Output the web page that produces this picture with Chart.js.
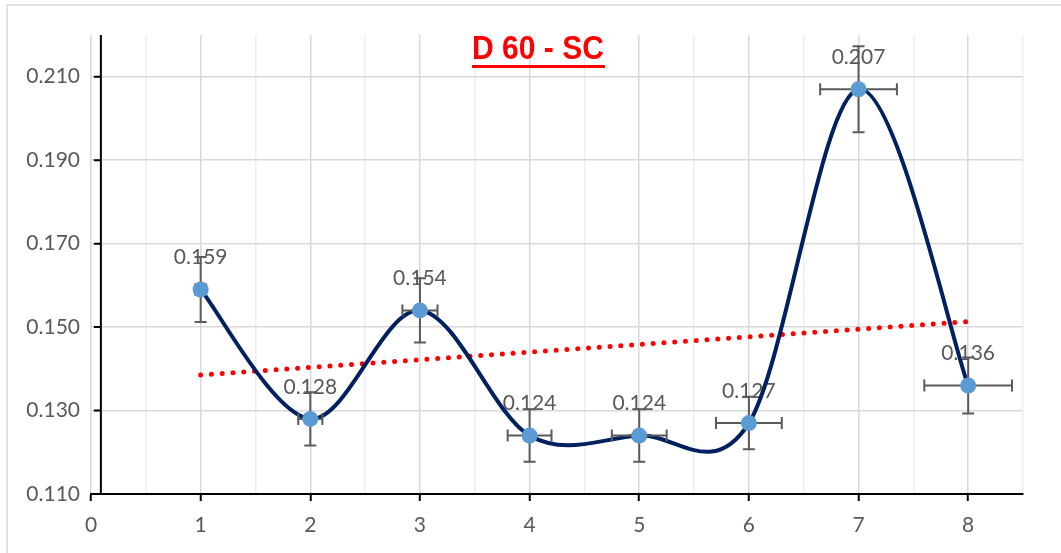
<!DOCTYPE html>
<html>
<head>
<meta charset="utf-8">
<script src="https://cdn.jsdelivr.net/npm/chart.js@4.4.1/dist/chart.umd.min.js"></script>
<style>
  html, body { margin: 0; padding: 0; background: #fff; }
  #wrap { width: 1061px; height: 553px; }
</style>
</head>
<body>
<div id="wrap"><canvas id="chart" width="1061" height="553"></canvas></div>
<script>
const chartTitle = 'D 60 - SC';

// measured points
const xValues = [1, 2, 3, 4, 5, 6, 7, 8];
const yValues = [0.159, 0.128, 0.154, 0.124, 0.124, 0.127, 0.207, 0.136];
const yErrors = [0.0078, 0.0064, 0.0077, 0.0063, 0.0063, 0.0063, 0.0103, 0.0067];
const xErrors = [0.05, 0.11, 0.16, 0.2, 0.25, 0.3, 0.35, 0.4];

// linear trend line end points
const trendX = [1, 8];
const trendY = [0.1385, 0.1513];

// axes
const xTicks = [0, 0.5, 1, 1.5, 2, 2.5, 3, 3.5, 4, 4.5, 5, 5.5, 6, 6.5, 7, 7.5, 8, 8.5];
const yTicks = [0.110, 0.130, 0.150, 0.170, 0.190, 0.210];
const yMin = 0.110, yMax = 0.220;
const yAxisCrossesAt = 0.09;

const points = xValues.map((x, i) => ({ x, y: yValues[i] }));
const trendPoints = trendX.map((x, i) => ({ x, y: trendY[i] }));

const TEXT_GRAY = '#595959';
const BAR_GRAY = '#5a5a5a';
const LABEL_FONT = '21px Lato';

// spreadsheet-style smoothing: plain Catmull-Rom handles (1/6 of neighbour span)
const smoothing = {
  id: 'smoothing',
  beforeDatasetDraw(chart, args) {
    if (args.index !== 1) return;
    args.meta.dataset.updateControlPoints(chart.chartArea, 'x');
    const pts = args.meta.data;
    pts.forEach((p, i) => {
      const prev = pts[i - 1] || p;
      const next = pts[i + 1] || p;
      const dx = (next.x - prev.x) / 6, dy = (next.y - prev.y) / 6;
      p.cp1x = p.x - dx; p.cp1y = p.y - dy;
      p.cp2x = p.x + dx; p.cp2y = p.y + dy;
    });
  }
};

// frame, value labels, error bars, vertical axis and title
const decor = {
  id: 'decor',
  beforeDraw(chart) {
    const ctx = chart.ctx;
    ctx.save();
    ctx.strokeStyle = '#d9d9d9';
    ctx.lineWidth = 1.5;
    ctx.strokeRect(7, 5, 1200, 700);
    ctx.restore();
  },
  afterDatasetDraw(chart, args) {
    const ctx = chart.ctx;
    const xs = chart.scales.x, ys = chart.scales.y;
    if (args.index === 2) {
      ctx.save();
      ctx.font = LABEL_FONT;
      ctx.fillStyle = TEXT_GRAY;
      ctx.textAlign = 'center';
      ctx.textBaseline = 'middle';
      xValues.forEach((x, i) => {
        ctx.fillText(yValues[i].toFixed(3), xs.getPixelForValue(x), ys.getPixelForValue(yValues[i]) - 32);
      });
      ctx.restore();
    }
    if (args.index === 1) {
      ctx.save();
      ctx.strokeStyle = BAR_GRAY;
      ctx.lineWidth = 2;
      const cap = 6;
      xValues.forEach((x, i) => {
        const px = xs.getPixelForValue(x);
        const py = ys.getPixelForValue(yValues[i]);
        const top = ys.getPixelForValue(yValues[i] + yErrors[i]);
        const bot = ys.getPixelForValue(yValues[i] - yErrors[i]);
        const left = xs.getPixelForValue(x - xErrors[i]);
        const right = xs.getPixelForValue(x + xErrors[i]);
        ctx.beginPath();
        ctx.moveTo(px, top); ctx.lineTo(px, bot);
        ctx.moveTo(px - cap, top); ctx.lineTo(px + cap, top);
        ctx.moveTo(px - cap, bot); ctx.lineTo(px + cap, bot);
        ctx.moveTo(left, py); ctx.lineTo(right, py);
        ctx.moveTo(left, py - cap); ctx.lineTo(left, py + cap);
        ctx.moveTo(right, py - cap); ctx.lineTo(right, py + cap);
        ctx.stroke();
      });
      ctx.restore();
    }
  },
  afterDraw(chart) {
    const ctx = chart.ctx;
    const area = chart.chartArea;
    const xs = chart.scales.x, ys = chart.scales.y;
    ctx.save();
    // vertical axis with outside ticks
    const ax = xs.getPixelForValue(yAxisCrossesAt);
    ctx.strokeStyle = '#000';
    ctx.lineWidth = 2;
    ctx.beginPath();
    ctx.moveTo(ax, area.top);
    ctx.lineTo(ax, area.bottom);
    yTicks.forEach(v => {
      const py = ys.getPixelForValue(v);
      ctx.moveTo(ax - 7, py);
      ctx.lineTo(ax, py);
    });
    ctx.stroke();

    // underlined title
    ctx.font = 'bold 33px "Liberation Sans"';
    const w = ctx.measureText(chartTitle).width;
    const targetW = 132;
    const cx = 538, baseY = 59;
    ctx.fillStyle = '#ff0000';
    ctx.textBaseline = 'alphabetic';
    ctx.translate(cx - targetW / 2, baseY);
    ctx.scale(targetW / w, 1);
    ctx.fillText(chartTitle, 0, 0);
    ctx.setTransform(1, 0, 0, 1, 0, 0);
    ctx.fillRect(cx - targetW / 2, 65, targetW + 1, 3);
    ctx.restore();
  }
};

const chart = new Chart(document.getElementById('chart'), {
  type: 'line',
  data: {
    datasets: [
      {
        data: points,
        showLine: false,
        pointRadius: 8,
        pointHoverRadius: 8,
        pointBackgroundColor: '#5b9bd5',
        pointBorderWidth: 0
      },
      {
        data: points,
        borderColor: '#002060',
        borderWidth: 4,
        pointRadius: 0,
        tension: 0.5,
        fill: false
      },
      {
        data: trendPoints,
        borderColor: '#ff0000',
        borderWidth: 5,
        borderDash: [0, 10.8],
        borderCapStyle: 'round',
        pointRadius: 0,
        fill: false
      }
    ]
  },
  options: {
    responsive: false,
    animation: false,
    events: [],
    layout: { padding: { top: 35, right: 38, left: 0, bottom: 0 } },
    plugins: { legend: { display: false }, tooltip: { enabled: false } },
    scales: {
      x: {
        type: 'linear',
        min: 0,
        max: 8.5,
        afterBuildTicks: s => { s.ticks = xTicks.map(v => ({ value: v })); },
        afterFit: s => { s.height = 59; },
        border: { color: '#000', width: 2 },
        grid: {
          color: c => (c.tick && Number.isInteger(c.tick.value)) ? '#d9d9d9' : '#eeeeee',
          lineWidth: 1.5,
          tickLength: 7,
          tickWidth: 2,
          tickColor: c => (c.tick && Number.isInteger(c.tick.value)) ? '#000' : 'rgba(0,0,0,0)'
        },
        ticks: {
          autoSkip: false,
          maxRotation: 0,
          padding: 12,
          color: TEXT_GRAY,
          font: { family: 'Lato', size: 21 },
          callback: v => Number.isInteger(v) ? String(v) : ''
        }
      },
      y: {
        min: yMin,
        max: yMax,
        afterBuildTicks: s => { s.ticks = yTicks.map(v => ({ value: v })); },
        afterFit: s => { s.width = 91; },
        border: { display: false },
        grid: { color: '#d9d9d9', lineWidth: 1.5, drawTicks: false },
        ticks: {
          padding: 11,
          color: TEXT_GRAY,
          font: { family: 'Lato', size: 21 },
          callback: v => v.toFixed(3)
        }
      }
    }
  },
  plugins: [smoothing, decor]
});
</script>
</body>
</html>
